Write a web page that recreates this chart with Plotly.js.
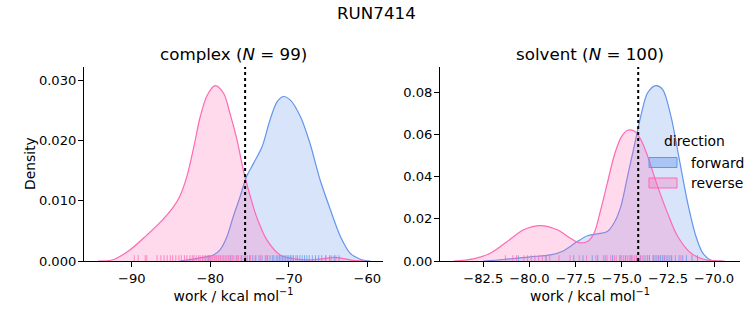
<!DOCTYPE html>
<html>
<head>
<meta charset="utf-8">
<script src="https://cdn.plot.ly/plotly-3.0.1.min.js"></script>
<style>html,body{margin:0;padding:0;background:#fff;}#chart{width:753px;height:325px;}</style>
</head>
<body>
<div id="chart"></div>
<script>
// ---- Data ----
const suptitle = "RUN7414";
const panelTitles = ["complex (<i>N</i> = 99)", "solvent (<i>N</i> = 100)"];
const directions = ["forward", "reverse"];
const legendTitle = "direction";

// KDE curves: complex
const complexFwdX = [-83.9,-81.8,-79.6,-78.8,-77.9,-77.1,-76.2,-75.4,-74.5,-73.4,-72.4,-71.5,-70.7,-69.8,-68.5,-67.3,-66.0,-64.7,-63.4,-62.2,-60.9,-59.6];
const complexFwdY = [0,0.0004,0.001,0.0018,0.004,0.0073,0.0107,0.014,0.0162,0.019,0.0234,0.0264,0.0273,0.0267,0.0239,0.0195,0.0134,0.0085,0.004,0.0013,0.0003,0];
const complexRevX = [-94.3,-92.4,-90.3,-88.1,-86.4,-84.7,-83.9,-83.0,-82.1,-81.3,-80.4,-79.4,-78.3,-77.5,-76.6,-75.8,-74.9,-74.1,-72.8,-71.1,-69.0,-67.0,-65.5,-64.3,-63.0,-61.8,-60.3];
const complexRevY = [0,0.0002,0.0018,0.0043,0.0064,0.009,0.0107,0.014,0.019,0.0239,0.0275,0.0291,0.0278,0.0245,0.0201,0.0151,0.0107,0.0073,0.0035,0.001,0.0003,0.0002,0.0004,0.0006,0.0004,0.0001,0];

// KDE curves: solvent
const solventFwdX = [-82.48,-81.4,-79.95,-78.86,-78.14,-77.41,-76.86,-76.32,-75.78,-75.42,-75.05,-74.69,-74.33,-73.97,-73.6,-73.15,-72.79,-72.34,-71.88,-71.43,-70.98,-70.61,-70.16,-69.62];
const solventFwdY = [0,0.0007,0.002,0.0029,0.0049,0.0092,0.012,0.0129,0.014,0.018,0.0259,0.0401,0.0544,0.0687,0.0798,0.0832,0.0814,0.0687,0.048,0.0275,0.0116,0.0037,0.0003,0];
const solventRevX = [-84.1,-83.03,-82.12,-81.21,-80.31,-79.40,-78.49,-77.77,-77.32,-76.86,-76.5,-76.14,-75.78,-75.42,-75.05,-74.69,-74.33,-73.97,-73.6,-73.06,-72.52,-71.97,-71.25,-70.53,-69.44];
const solventRevY = [0,0.001,0.0037,0.0092,0.0148,0.0168,0.0148,0.0108,0.0087,0.0092,0.0132,0.0243,0.037,0.0497,0.0584,0.062,0.0616,0.0576,0.0497,0.0354,0.0227,0.0116,0.0037,0.0007,0];

// Rug samples (work values)
const complexFwdWork = [-80.2,-77.4,-76.6,-76.0,-75.5,-75.0,-74.6,-74.2,-73.8,-73.4,-73.0,-72.7,-72.4,-72.1,-71.9,-71.6,-71.4,-71.2,-71.0,-70.8,-70.6,-70.4,-70.2,-70.0,-69.8,-69.6,-69.4,-69.1,-68.9,-68.6,-68.3,-68.0,-67.7,-67.4,-67.0,-66.6,-66.2,-65.8,-65.3,-64.8,-64.2,-63.6];
const complexRevWork = [-89.7,-89.2,-88.3,-88.1,-86.8,-86.3,-85.9,-85.5,-85.1,-84.8,-84.4,-84.0,-83.7,-83.3,-83.0,-82.6,-82.3,-82.1,-81.8,-81.5,-81.3,-81.0,-80.8,-80.6,-80.4,-80.2,-80.0,-79.9,-79.7,-79.5,-79.4,-79.2,-79.0,-78.9,-78.7,-78.5,-78.3,-78.1,-77.9,-77.7,-77.5,-77.2,-77.0,-76.7,-76.4,-76.1,-75.7,-75.3,-74.9,-74.3,-73.6,-72.8,-65.3,-64.6,-64.0];
const solventFwdWork = [-80.6,-79.1,-77.6,-77.1,-76.6,-76.3,-75.9,-75.5,-75.1,-74.8,-74.5,-74.2,-74.0,-73.8,-73.6,-73.5,-73.3,-73.2,-73.1,-73.0,-72.9,-72.8,-72.7,-72.6,-72.5,-72.4,-72.3,-72.1,-71.9,-71.7,-71.5,-71.2,-70.9];
const solventRevWork = [-81.3,-80.9,-80.7,-80.3,-80.1,-79.9,-79.7,-79.5,-79.3,-79.1,-78.9,-78.4,-77.8,-77.3,-76.9,-76.4,-76.0,-75.8,-75.6,-75.4,-75.3,-75.1,-75.0,-74.9,-74.8,-74.7,-74.6,-74.5,-74.4,-74.3,-74.2,-74.0,-73.9,-73.7,-73.5,-73.3,-73.0,-72.7,-72.3,-71.8];

// Vertical reference lines (dotted)
const refLineX = [-75.57, -74.11];

// ---- Styling ----
const FONT = "DejaVu Sans, Liberation Sans, sans-serif";
const colors = {forward: "#6495ED", reverse: "#FF69B4"};
const fills = {forward: "rgba(100,149,237,0.25)", reverse: "rgba(255,105,180,0.25)"};
const legendFills = {forward: "rgba(100,149,237,0.4)", reverse: "rgba(255,105,180,0.3)"};
const rugColors = {forward: "rgba(100,149,237,0.75)", reverse: "rgba(255,105,180,0.75)"};

const panels = [
  {xa: "x", ya: "y", fwd: [complexFwdX, complexFwdY], rev: [complexRevX, complexRevY], rugF: complexFwdWork, rugR: complexRevWork},
  {xa: "x2", ya: "y2", fwd: [solventFwdX, solventFwdY], rev: [solventRevX, solventRevY], rugF: solventFwdWork, rugR: solventRevWork}
];

const traces = [];
const shapes = [];
panels.forEach((p, i) => {
  [["forward", p.fwd], ["reverse", p.rev]].forEach(([name, xy]) => {
    traces.push({
      type: "scatter", mode: "lines", x: xy[0], y: xy[1],
      xaxis: p.xa, yaxis: p.ya, name: name, showlegend: false,
      line: {color: colors[name], width: 1.2, shape: "spline", smoothing: 0.9},
      fill: "tozeroy", fillcolor: fills[name], hoverinfo: "skip"
    });
  });
  [["forward", p.rugF], ["reverse", p.rugR]].forEach(([name, vals]) => {
    vals.forEach(v => shapes.push({
      type: "line", xref: p.xa, yref: p.ya + " domain", x0: v, x1: v, y0: 0, y1: 0.03,
      line: {color: rugColors[name], width: 1}, layer: "above"
    }));
  });
  shapes.push({
    type: "line", xref: p.xa, yref: p.ya + " domain", x0: refLineX[i], x1: refLineX[i], y0: 0, y1: 1,
    line: {color: "black", width: 2, dash: "dot"}, layer: "above"
  });
});

const W = 753, H = 325;
const dom1 = [84 / W, 383 / W];
const dom2 = [440 / W, 740 / W];
const ydom = [(H - 261) / H, (H - 67) / H];
const px = v => v / W;
const py = v => 1 - v / H;

// custom legend (patches + labels)
const annotations = [];
directions.forEach((d, k) => {
  const top = 157.5 + k * 20.5;
  shapes.push({type: "rect", xref: "paper", yref: "paper", x0: px(649), x1: px(677), y0: py(top + 10), y1: py(top),
    fillcolor: legendFills[d], line: {color: colors[d], width: 1}, layer: "above"});
  annotations.push({text: d, xref: "paper", yref: "paper", x: px(689), y: py(top + 5), xanchor: "left", yanchor: "middle",
    showarrow: false, font: {family: FONT, size: 13.9, color: "black"}});
});
annotations.push({text: legendTitle, xref: "paper", yref: "paper", x: px(694), y: py(141), xanchor: "center", yanchor: "middle",
  showarrow: false, font: {family: FONT, size: 13.9, color: "black"}});

const tfont = {family: FONT, size: 16.7, color: "black"};
annotations.push(
  {text: suptitle, xref: "paper", yref: "paper", x: 0.5, y: py(13), xanchor: "center", yanchor: "middle", showarrow: false, font: tfont},
  {text: panelTitles[0], xref: "paper", yref: "paper", x: (dom1[0] + dom1[1]) / 2, y: py(54), xanchor: "center", yanchor: "middle", showarrow: false, font: tfont},
  {text: panelTitles[1], xref: "paper", yref: "paper", x: (dom2[0] + dom2[1]) / 2, y: py(54), xanchor: "center", yanchor: "middle", showarrow: false, font: tfont},
  {text: "Density", xref: "paper", yref: "paper", x: px(30), y: (ydom[0] + ydom[1]) / 2, xanchor: "center", yanchor: "middle", textangle: -90,
   showarrow: false, font: {family: FONT, size: 13.9, color: "black"}}
);

const axBase = {
  showgrid: false, zeroline: false, showline: true, linecolor: "black", linewidth: 1,
  ticks: "outside", ticklen: 5, tickwidth: 1, tickcolor: "black",
  tickfont: {family: FONT, size: 13.1, color: "black"}, mirror: false
};
const xtitle = {text: "work / kcal mol<sup>−1</sup>", font: {family: FONT, size: 13.9, color: "black"}, standoff: 6};

const layout = {
  width: W, height: H,
  margin: {l: 0, r: 0, t: 0, b: 0},
  paper_bgcolor: "white", plot_bgcolor: "white",
  font: {family: FONT, color: "black"},
  showlegend: false,
  xaxis: Object.assign({}, axBase, {domain: dom1, anchor: "y", range: [-96.1, -58.0], dtick: 10, tick0: 0, title: xtitle}),
  yaxis: Object.assign({}, axBase, {domain: ydom, anchor: "x", range: [0, 0.0322], dtick: 0.01, tick0: 0, tickformat: ".3f", ticklabelstandoff: -1}),
  xaxis2: Object.assign({}, axBase, {domain: dom2, anchor: "y2", range: [-84.84, -68.6], dtick: 2.5, tick0: 0, tickformat: ".1f", title: xtitle}),
  yaxis2: Object.assign({}, axBase, {domain: ydom, anchor: "x2", range: [0, 0.092], dtick: 0.02, tick0: 0, tickformat: ".2f", ticklabelstandoff: -1}),
  shapes: shapes,
  annotations: annotations
};

Plotly.newPlot("chart", traces, layout, {displayModeBar: false, staticPlot: true});
</script>
</body>
</html>
